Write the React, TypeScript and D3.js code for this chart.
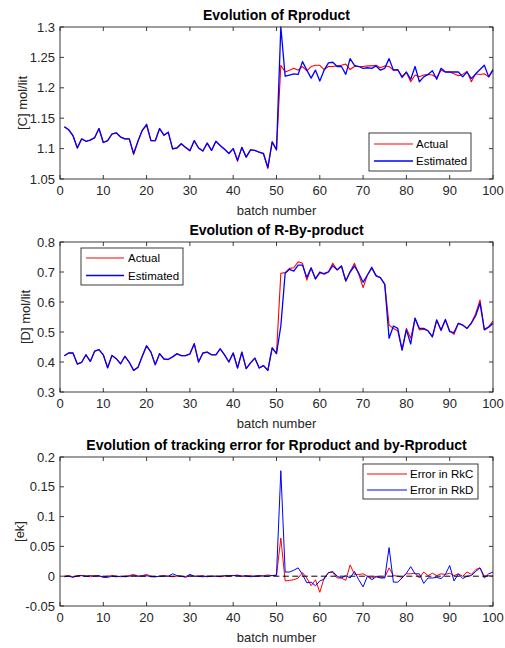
import React from "react";
import * as d3 from "d3";

// batch index 1..100
const batches = d3.range(1, 101);

// [C] Rproduct concentration, mol/lit
const rproductActual = [
  1.136, 1.131, 1.122, 1.101, 1.116, 1.112, 1.114, 1.118, 1.133, 1.110,
  1.113, 1.124, 1.126, 1.119, 1.116, 1.116, 1.090, 1.112, 1.130, 1.138,
  1.113, 1.113, 1.133, 1.122, 1.127, 1.099, 1.101, 1.108, 1.102, 1.096,
  1.113, 1.101, 1.096, 1.109, 1.097, 1.112, 1.105, 1.099, 1.092, 1.100,
  1.079, 1.102, 1.086, 1.098, 1.097, 1.094, 1.091, 1.067, 1.111, 1.098,
  1.237, 1.226, 1.229, 1.232, 1.229, 1.235, 1.228, 1.235, 1.237, 1.237,
  1.230, 1.235, 1.235, 1.236, 1.237, 1.239, 1.230, 1.235, 1.235, 1.235,
  1.236, 1.236, 1.237, 1.233, 1.236, 1.235, 1.229, 1.229, 1.219, 1.225,
  1.210, 1.221, 1.218, 1.221, 1.222, 1.221, 1.217, 1.229, 1.226, 1.226,
  1.223, 1.220, 1.222, 1.227, 1.210, 1.223, 1.222, 1.223, 1.218, 1.228,
];
const rproductEstimated = [
  1.136, 1.131, 1.121, 1.101, 1.116, 1.112, 1.114, 1.118, 1.133, 1.110,
  1.113, 1.124, 1.126, 1.119, 1.116, 1.116, 1.092, 1.112, 1.130, 1.140,
  1.113, 1.113, 1.133, 1.122, 1.127, 1.100, 1.101, 1.108, 1.102, 1.097,
  1.113, 1.101, 1.096, 1.109, 1.097, 1.112, 1.105, 1.099, 1.092, 1.100,
  1.081, 1.102, 1.086, 1.098, 1.097, 1.094, 1.092, 1.069, 1.111, 1.098,
  1.300, 1.219, 1.221, 1.223, 1.222, 1.243, 1.229, 1.216, 1.229, 1.211,
  1.229, 1.241, 1.242, 1.235, 1.235, 1.222, 1.248, 1.237, 1.235, 1.232,
  1.233, 1.232, 1.236, 1.229, 1.232, 1.248, 1.229, 1.230, 1.217, 1.226,
  1.214, 1.235, 1.210, 1.218, 1.222, 1.228, 1.214, 1.232, 1.226, 1.226,
  1.226, 1.226, 1.218, 1.226, 1.215, 1.223, 1.230, 1.237, 1.218, 1.230,
];

// [D] R-By-product concentration, mol/lit
const byproductActual = [
  0.421, 0.430, 0.430, 0.393, 0.399, 0.424, 0.402, 0.436, 0.441, 0.424,
  0.380, 0.422, 0.411, 0.394, 0.419, 0.399, 0.372, 0.382, 0.419, 0.454,
  0.433, 0.391, 0.428, 0.410, 0.408, 0.417, 0.428, 0.421, 0.421, 0.427,
  0.461, 0.400, 0.430, 0.433, 0.424, 0.424, 0.444, 0.424, 0.400, 0.430,
  0.380, 0.433, 0.378, 0.397, 0.413, 0.380, 0.388, 0.372, 0.447, 0.428,
  0.696, 0.698, 0.712, 0.714, 0.734, 0.729, 0.673, 0.712, 0.677, 0.696,
  0.696, 0.701, 0.729, 0.707, 0.720, 0.670, 0.701, 0.729, 0.692, 0.648,
  0.690, 0.712, 0.688, 0.681, 0.659, 0.523, 0.512, 0.504, 0.440, 0.512,
  0.479, 0.546, 0.507, 0.509, 0.504, 0.484, 0.540, 0.504, 0.540, 0.504,
  0.492, 0.529, 0.523, 0.512, 0.531, 0.561, 0.607, 0.509, 0.518, 0.536,
];
const byproductEstimated = [
  0.421, 0.430, 0.430, 0.393, 0.399, 0.424, 0.402, 0.436, 0.441, 0.424,
  0.381, 0.422, 0.411, 0.394, 0.419, 0.399, 0.372, 0.382, 0.419, 0.454,
  0.433, 0.391, 0.428, 0.410, 0.409, 0.417, 0.427, 0.421, 0.421, 0.427,
  0.461, 0.400, 0.430, 0.433, 0.424, 0.424, 0.444, 0.424, 0.400, 0.430,
  0.380, 0.433, 0.378, 0.397, 0.413, 0.380, 0.388, 0.372, 0.447, 0.428,
  0.520, 0.696, 0.709, 0.703, 0.723, 0.723, 0.682, 0.714, 0.677, 0.700,
  0.693, 0.700, 0.721, 0.707, 0.720, 0.670, 0.700, 0.720, 0.696, 0.666,
  0.690, 0.716, 0.687, 0.681, 0.659, 0.479, 0.520, 0.512, 0.440, 0.507,
  0.460, 0.546, 0.512, 0.512, 0.504, 0.484, 0.540, 0.507, 0.542, 0.501,
  0.498, 0.529, 0.523, 0.512, 0.529, 0.554, 0.596, 0.507, 0.516, 0.529,
];

// tracking errors [ek]
const errorRkC = [
  0.000, 0.001, -0.001, 0.000, 0.001, 0.000, -0.001, 0.001, 0.000, -0.001,
  0.000, 0.001, 0.000, -0.001, 0.000, 0.001, 0.003, 0.000, 0.001, 0.003,
  0.000, -0.001, 0.000, 0.001, 0.000, -0.001, 0.000, 0.000, -0.002, 0.001,
  0.000, 0.000, 0.001, -0.001, 0.000, 0.000, -0.001, 0.000, 0.000, 0.001,
  0.002, 0.000, 0.000, 0.001, 0.000, 0.000, 0.001, 0.002, 0.001, 0.001,
  0.064, -0.008, -0.007, -0.006, -0.003, 0.006, -0.003, -0.016, -0.006, -0.027,
  -0.003, 0.006, 0.006, -0.003, -0.003, -0.007, 0.019, 0.003, 0.003, 0.004,
  0.000, -0.003, 0.000, -0.002, -0.002, 0.014, 0.001, 0.000, -0.002, 0.004,
  0.004, 0.005, -0.003, 0.007, 0.001, 0.005, 0.001, 0.004, 0.003, 0.005,
  0.001, 0.004, 0.000, 0.007, 0.003, 0.011, 0.014, 0.000, 0.001, 0.000,
];
const errorRkD = [
  -0.001, 0.000, -0.002, 0.001, 0.001, 0.000, 0.001, 0.000, 0.001, -0.002,
  -0.002, 0.000, -0.001, 0.000, -0.001, 0.000, 0.001, 0.000, 0.000, 0.001,
  -0.001, -0.001, 0.000, 0.000, 0.000, 0.004, 0.001, 0.000, -0.001, 0.003,
  0.000, 0.000, -0.001, 0.000, 0.000, 0.000, 0.000, 0.001, 0.001, 0.001,
  0.001, 0.000, 0.001, -0.001, 0.000, 0.001, 0.000, 0.000, 0.001, 0.002,
  0.177, 0.007, 0.007, 0.010, 0.014, 0.003, -0.011, -0.010, -0.016, -0.008,
  -0.005, 0.006, 0.008, 0.000, -0.003, 0.001, -0.003, 0.008, -0.006, -0.018,
  0.000, -0.006, -0.001, -0.003, -0.003, 0.048, -0.010, -0.010, -0.003, 0.005,
  0.016, 0.004, 0.004, -0.012, -0.003, -0.003, -0.002, -0.004, 0.003, 0.018,
  -0.008, 0.004, -0.004, 0.000, 0.001, 0.008, 0.014, -0.003, 0.004, 0.007,
];

const FONT = "'Liberation Sans', Arial, Helvetica, sans-serif";
const AX = "#262626";
const W = 505;
const H = 648;

const x = d3.scaleLinear().domain([0, 100]).range([60, 493]);

type Series = { name: string; values: number[]; color: string; width: number };
type Legend = { x: number; y: number; w: number; h: number; rows: number[]; x1: number; x2: number; tx: number };

const fmt = (v: number) => `${+v.toFixed(2)}`;

function Panel(props: {
  top: number;
  bottom: number;
  domain: [number, number];
  title: string;
  ylabel: string;
  ylabelX: number;
  series: Series[];
  legend: Legend;
  zeroLine?: boolean;
}) {
  const { top, bottom, domain, title, ylabel, ylabelX, series, legend, zeroLine } = props;
  const y = d3.scaleLinear().domain(domain).range([bottom, top]);
  const [x0, x1] = x.range();
  const line = d3
    .line<number>()
    .x((_, i) => x(batches[i]))
    .y((d) => y(d));
  const tl = 4;

  return (
    <g>
      <rect x={x0} y={top} width={x1 - x0} height={bottom - top} fill="#fff" />
      {zeroLine ? null : null}
      {series.map((s) => (
        <path key={s.name} d={line(s.values) ?? ""} fill="none" stroke={s.color} strokeWidth={s.width} strokeLinejoin="round" />
      ))}
      {zeroLine && (
        <line x1={x(1)} x2={x(100)} y1={y(0)} y2={y(0)} stroke="#000" strokeWidth={1} strokeDasharray="6,3.5" />
      )}
      {/* box and inward ticks */}
      <rect x={x0} y={top} width={x1 - x0} height={bottom - top} fill="none" stroke={AX} strokeWidth={0.9} />
      {x.ticks(10).map((t) => (
        <g key={"x" + t}>
          <line x1={x(t)} x2={x(t)} y1={bottom} y2={bottom - tl} stroke={AX} strokeWidth={0.9} />
          <line x1={x(t)} x2={x(t)} y1={top} y2={top + tl} stroke={AX} strokeWidth={0.9} />
          <text x={x(t)} y={bottom + 16} textAnchor="middle" fontSize={13} fill={AX}>
            {t}
          </text>
        </g>
      ))}
      {y.ticks(5).map((t) => (
        <g key={"y" + t}>
          <line x1={x0} x2={x0 + tl} y1={y(t)} y2={y(t)} stroke={AX} strokeWidth={0.9} />
          <line x1={x1} x2={x1 - tl} y1={y(t)} y2={y(t)} stroke={AX} strokeWidth={0.9} />
          <text x={x0 - 5} y={y(t)} dy="0.36em" textAnchor="end" fontSize={13} fill={AX}>
            {fmt(t)}
          </text>
        </g>
      ))}
      <text x={(x0 + x1) / 2} y={top - 7} textAnchor="middle" fontSize={14} fontWeight="bold" fill="#000">
        {title}
      </text>
      <text x={(x0 + x1) / 2} y={bottom + 36} textAnchor="middle" fontSize={13} fill={AX}>
        batch number
      </text>
      <text
        transform={`translate(${ylabelX},${(top + bottom) / 2}) rotate(-90)`}
        textAnchor="middle"
        fontSize={13}
        fill={AX}
      >
        {ylabel}
      </text>
      {/* legend */}
      <rect x={legend.x} y={legend.y} width={legend.w} height={legend.h} fill="#fff" stroke={AX} strokeWidth={0.9} />
      {series.map((s, i) => (
        <g key={"l" + s.name}>
          <line x1={legend.x1} x2={legend.x2} y1={legend.rows[i]} y2={legend.rows[i]} stroke={s.color} strokeWidth={s.width} />
          <text x={legend.tx} y={legend.rows[i]} dy="0.36em" fontSize={11.5} fill="#000">
            {s.name}
          </text>
        </g>
      ))}
    </g>
  );
}

export default function App() {
  return (
    <svg
      width={W}
      height={H}
      viewBox={`0 0 ${W} ${H}`}
      style={{ position: "absolute", left: 0, top: 0, background: "#fff" }}
      fontFamily={FONT}
    >
      <rect width={W} height={H} fill="#fff" />
      <Panel
        top={27}
        bottom={179}
        domain={[1.05, 1.3]}
        title="Evolution of Rproduct"
        ylabel="[C] mol/lit"
        ylabelX={27}
        series={[
          { name: "Actual", values: rproductActual, color: "#ff0000", width: 1.1 },
          { name: "Estimated", values: rproductEstimated, color: "#0000ff", width: 1.3 },
        ]}
        legend={{ x: 369, y: 133, w: 102, h: 38, rows: [144, 161], x1: 374, x2: 413, tx: 416 }}
      />
      <Panel
        top={242}
        bottom={392}
        domain={[0.3, 0.8]}
        title="Evolution of R-By-product"
        ylabel="[D] mol/lit"
        ylabelX={30}
        series={[
          { name: "Actual", values: byproductActual, color: "#ff0000", width: 1.1 },
          { name: "Estimated", values: byproductEstimated, color: "#0000ff", width: 1.3 },
        ]}
        legend={{ x: 81, y: 248, w: 102, h: 37, rows: [258, 275.5], x1: 86, x2: 124, tx: 128 }}
      />
      <Panel
        top={457}
        bottom={606}
        domain={[-0.05, 0.2]}
        title="Evolution of tracking error for Rproduct and by-Rproduct"
        ylabel="[ek]"
        ylabelX={24}
        series={[
          { name: "Error in RkC", values: errorRkC, color: "#ff0000", width: 1 },
          { name: "Error in RkD", values: errorRkD, color: "#0000ff", width: 1 },
        ]}
        legend={{ x: 363, y: 464, w: 115, h: 35, rows: [474, 490], x1: 367, x2: 407, tx: 410 }}
        zeroLine
      />
    </svg>
  );
}
